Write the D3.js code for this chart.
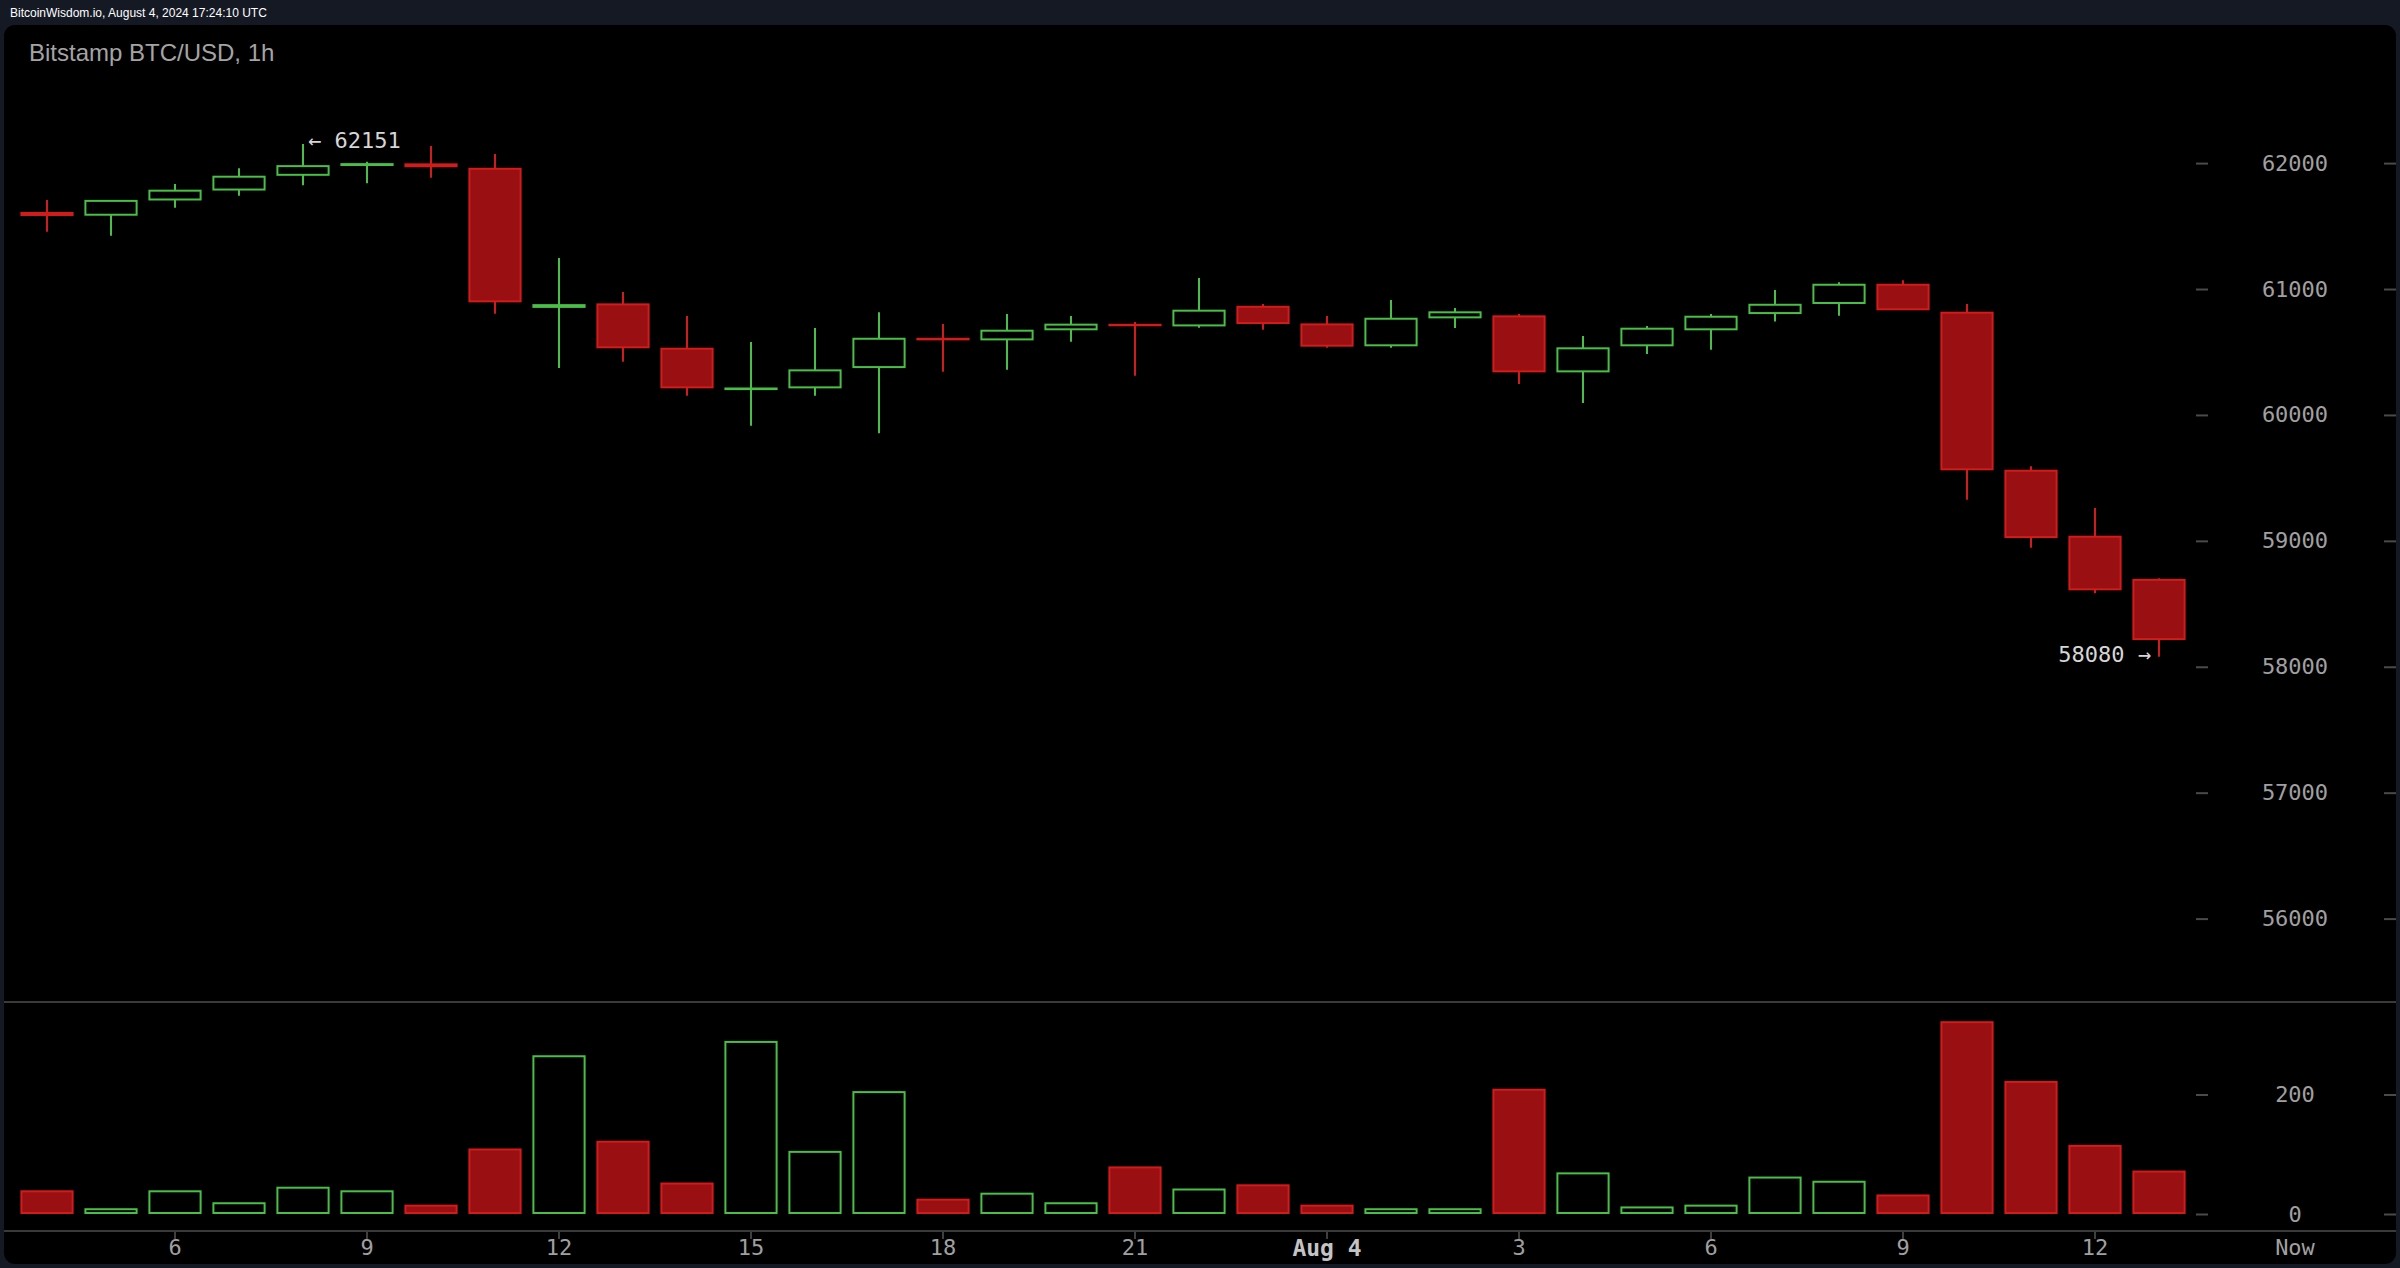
<!DOCTYPE html>
<html><head><meta charset="utf-8">
<script src="https://cdn.jsdelivr.net/npm/d3@7"></script>
<style>
html,body{margin:0;padding:0;background:#151924;overflow:hidden}
svg{display:block}
</style>
</head><body>
<svg id="chart" width="2400" height="1268"></svg>
<script>
// ---- data (Bitstamp BTC/USD, 1h candles, Aug 3 04:00 -> Aug 4 13:00 UTC) ----
const hours = [4,5,6,7,8,9,10,11,12,13,14,15,16,17,18,19,20,21,22,23,0,1,2,3,4,5,6,7,8,9,10,11,12,13];
const days  = [3,3,3,3,3,3,3,3,3,3,3,3,3,3,3,3,3,3,3,3,4,4,4,4,4,4,4,4,4,4,4,4,4,4];
const openP  = [61604,61590,61711,61790,61907,61985,61990,61955,60858,60878,60526,60205,60219,60380,60605,60600,60680,60716,60711,60859,60719,60553,60775,60783,60346,60553,60680,60809,60889,61034,60812,59557,59033,58690];
const closeP = [61588,61700,61781,61892,61976,61992,61975,60902,60872,60537,60219,60210,60354,60605,60600,60669,60717,60712,60828,60730,60550,60764,60815,60346,60529,60685,60780,60875,61034,60839,59568,59030,58615,58220];
const highP  = [61707,61705,61834,61959,62151,62010,62135,62072,61246,60976,60786,60579,60690,60815,60722,60801,60786,60738,61087,60881,60786,60913,60849,60801,60627,60706,60801,60992,61053,61069,60881,59592,59261,58702];
const lowP   = [61455,61423,61646,61741,61824,61840,61884,60804,60373,60423,60153,59914,60153,59854,60343,60359,60582,60311,60693,60677,60534,60534,60690,60245,60095,60484,60518,60743,60788,60835,59327,58945,58584,58080];
const volume = [38,8,38,18,44,38,14,108,264,121,51,288,104,204,24,34,18,78,41,48,14,8,8,208,68,11,14,61,54,31,321,221,114,71];

const priceTicks  = [56000,57000,58000,59000,60000,61000,62000];
const volumeTicks = [0,200];
const xTickIdx    = [2,5,8,11,14,17,20,23,26,29,32];
const xTickLabels = ["6","9","12","15","18","21","Aug 4","3","6","9","12"];

const headerText = "BitcoinWisdom.io, August 4, 2024 17:24:10 UTC";
const titleText  = "Bitstamp BTC/USD, 1h";

// ---- styles ----
const GREEN = "#4abf47", RED = "#d21b1b", RED_FILL = "#9a0f12";
const MONO = "'DejaVu Sans Mono', monospace";

const cats = hours.map((h,i)=>`Aug ${days[i]} ${String(h).padStart(2,"0")}:00`);
const data = cats.map((c,i)=>({c, o:openP[i], h:highP[i], l:lowP[i], cl:closeP[i], v:volume[i], up: closeP[i] >= openP[i]}));

const svg = d3.select("#chart");

// outer panel
svg.append("rect").attr("x",0).attr("y",0).attr("width",2400).attr("height",1268).attr("fill","#151924");
svg.append("rect").attr("x",4).attr("y",25).attr("width",2392).attr("height",1239).attr("rx",11).attr("fill","#000");

svg.append("text").attr("x",10).attr("y",17).attr("fill","#ffffff")
  .attr("font-family","'Liberation Sans', Arial, sans-serif").attr("font-size",12).text(headerText);
svg.append("text").attr("x",29).attr("y",61).attr("fill","#a4a4a4")
  .attr("font-family","'Liberation Sans', Arial, sans-serif").attr("font-size",24).text(titleText);

// scales
const x = d3.scaleBand().domain(cats).range([15, 15 + 64*cats.length]).paddingInner(0.2).paddingOuter(0.1);
const bw = x.bandwidth();
const cx = c => x(c) + bw/2;
const y = d3.scaleLinear().domain([56000, 62000]).range([918.6, 163.1]);
const yv = d3.scaleLinear().domain([0, 200]).range([1214, 1094.5]);

// separators
[1002, 1231].forEach(yy => svg.append("line").attr("x1",4).attr("x2",2396).attr("y1",yy).attr("y2",yy)
  .attr("stroke","#3a3a3a").attr("stroke-width",2));

// candles
const cg = svg.append("g");
const cand = cg.selectAll("g.c").data(data).join("g").attr("class","c");
cand.append("line")
  .attr("x1",d=>cx(d.c)).attr("x2",d=>cx(d.c))
  .attr("y1",d=>y(d.h)).attr("y2",d=>y(d.l))
  .attr("stroke",d=>d.up?GREEN:RED).attr("stroke-width",2);
cand.append("rect")
  .attr("x",d=>x(d.c)).attr("width",bw)
  .attr("y",d=>y(Math.max(d.o,d.cl)))
  .attr("height",d=>Math.max(0.1, Math.abs(y(d.o)-y(d.cl))))
  .attr("fill",d=>d.up?"#000":RED_FILL)
  .attr("stroke",d=>d.up?GREEN:RED).attr("stroke-width",2);

// volume bars
svg.append("g").selectAll("rect").data(data).join("rect")
  .attr("x",d=>x(d.c)).attr("width",bw)
  .attr("y",d=>yv(d.v)).attr("height",d=>yv(0)-yv(d.v)-1)
  .attr("fill",d=>d.up?"#000":RED_FILL)
  .attr("stroke",d=>d.up?GREEN:RED).attr("stroke-width",2);

// annotations: high / low
const hiIdx = d3.maxIndex(data, d=>d.h), loIdx = d3.minIndex(data, d=>d.l);
svg.append("text").attr("x",cx(data[hiIdx].c)+5).attr("y",y(data[hiIdx].h)-2)
  .attr("dominant-baseline","middle").attr("fill","#d6d6d6")
  .attr("font-family",MONO).attr("font-size",22).text("\u2190 " + data[hiIdx].h);
svg.append("text").attr("x",cx(data[loIdx].c)-8).attr("y",y(data[loIdx].l)-1)
  .attr("dominant-baseline","middle").attr("text-anchor","end").attr("fill","#d6d6d6")
  .attr("font-family",MONO).attr("font-size",22).text(data[loIdx].l + " \u2192");

// axes styling helper
function styleAxis(g, labelX){
  g.select(".domain").remove();
  g.selectAll(".tick line").attr("stroke","#4a4a4a").attr("stroke-width",2);
  g.selectAll(".tick text").attr("fill","#a0a0a0").attr("font-family",MONO).attr("font-size",22);
  if (labelX !== undefined) g.selectAll(".tick text").attr("x",labelX).attr("text-anchor","middle");
}

// price axis
const pa = svg.append("g").attr("transform","translate(2196,0)")
  .call(d3.axisRight(y).tickValues(priceTicks).tickSize(12).tickFormat(d3.format("d")));
styleAxis(pa, 99);
const pa2 = svg.append("g").attr("transform","translate(2396,0)")
  .call(d3.axisLeft(y).tickValues(priceTicks).tickSize(12).tickFormat(""));
styleAxis(pa2);

// volume axis
const va = svg.append("g").attr("transform","translate(2196,0)")
  .call(d3.axisRight(yv).tickValues(volumeTicks).tickSize(12).tickFormat(d3.format("d")));
styleAxis(va, 99);
const va2 = svg.append("g").attr("transform","translate(2396,0)")
  .call(d3.axisLeft(yv).tickValues(volumeTicks).tickSize(12).tickFormat(""));
styleAxis(va2);

// time axis
const xa = svg.append("g").attr("transform","translate(0,1232)")
  .call(d3.axisBottom(x).tickValues(xTickIdx.map(i=>cats[i])).tickSize(7).tickPadding(0.5)
    .tickFormat((d,i)=>xTickLabels[i]));
styleAxis(xa);
xa.selectAll(".tick line").attr("stroke","#555").attr("stroke-width",1.5);
xa.selectAll(".tick text").filter(d=>d===cats[20])
  .attr("font-weight","bold").attr("font-size",23).attr("fill","#c4c4c4");

svg.append("text").attr("x",2295).attr("y",1255).attr("text-anchor","middle")
  .attr("fill","#a0a0a0").attr("font-family",MONO).attr("font-size",22).text("Now");
</script>
</body></html>
